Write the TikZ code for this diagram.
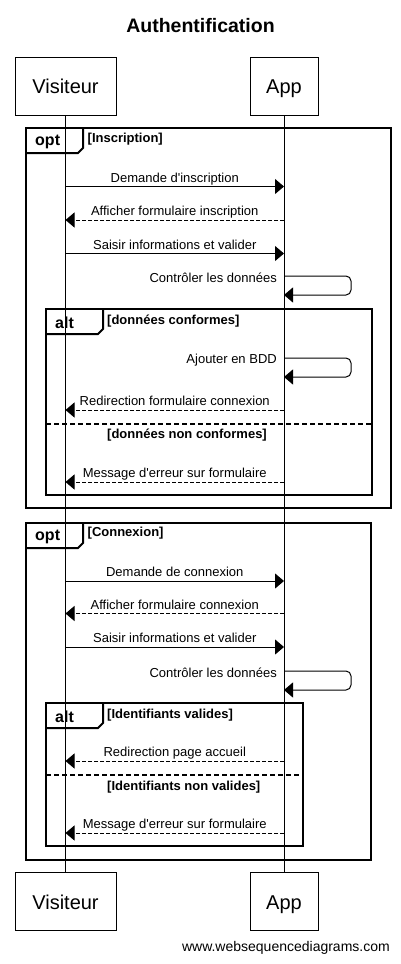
\documentclass[tikz,border=0pt]{standalone}
\usepackage{fontspec}
\setmainfont{Liberation Sans}
\newfontfamily\wsd{Liberation Sans}
\usetikzlibrary{arrows.meta,calc}
\begin{document}
\begin{tikzpicture}[x=1pt,y=-1pt,
  actorbox/.style={draw, line width=1pt, minimum height=58pt, inner sep=0pt, outer sep=0pt, text height=15.5pt, text depth=0pt, font=\wsd\fontsize{20}{24}\selectfont},
  life/.style={line width=1pt},
  msgline/.style={line width=1pt, -{Triangle[length=9pt,width=15pt]}},
  retline/.style={msgline, dash pattern=on 4pt off 2pt},
  mlabel/.style={font=\wsd\fontsize{13}{15}\selectfont, inner sep=0pt, anchor=base, yshift=4.5pt},
  slabel/.style={font=\wsd\fontsize{13}{15}\selectfont, inner sep=0pt, anchor=base east},
  frameline/.style={line width=2pt},
  sepline/.style={line width=2pt, dash pattern=on 5pt off 3pt},
  tabtext/.style={font=\wsd\bfseries\fontsize{16}{18}\selectfont, inner sep=0pt, anchor=west},
  guard/.style={font=\wsd\bfseries\fontsize{13}{15}\selectfont, inner sep=0pt, anchor=west},
]
\useasboundingbox (0,0) rectangle (401,964);
\def\xV{65.5}
\def\xA{284}

% title
\node[font=\wsd\bfseries\fontsize{19.5}{22}\selectfont] (title) at (200.5,26) {Authentification};

% actors
\node[actorbox, minimum width=101pt] (vtop) at (\xV,86) {Visiteur};
\node[actorbox, minimum width=68pt] (atop) at (\xA,86) {App};
\node[actorbox, minimum width=101pt] (vbot) at (\xV,901.5) {Visiteur};
\node[actorbox, minimum width=68pt] (abot) at (\xA,901.5) {App};

% ---------- opt Inscription ----------
\draw[frameline] (26,128) rectangle (391,508);
\draw[frameline] (26,153) -- (78,153) -- (83,148) -- (83,128);
\node[tabtext] (opt1lbl) at (35,141.5) {opt};
\node[guard] (opt1g) at (87.5,139) {[Inscription]};

% alt données
\draw[frameline] (46,309) rectangle (372,495);
\draw[frameline] (46,334) -- (98,334) -- (103,329) -- (103,309);
\node[tabtext] (alt1lbl) at (55,322.5) {alt};
\node[guard] (alt1g) at (107,321) {[données conformes]};
\draw[sepline] (46,424) -- (372,424);
\node[guard] (alt1g2) at (107,435) {[données non conformes]};

% ---------- opt Connexion ----------
\draw[frameline] (26,523) rectangle (371,860);
\draw[frameline] (26,548) -- (78,548) -- (83,543) -- (83,523);
\node[tabtext] (opt2lbl) at (35,536.5) {opt};
\node[guard] (opt2g) at (87.5,533) {[Connexion]};

% alt identifiants
\draw[frameline] (46,703) rectangle (303,846);
\draw[frameline] (46,728) -- (98,728) -- (103,723) -- (103,703);
\node[tabtext] (alt2lbl) at (55,716.5) {alt};
\node[guard] (alt2g) at (107,715) {[Identifiants valides]};
\draw[sepline] (46,775) -- (303,775);
\node[guard] (alt2g2) at (107,787) {[Identifiants non valides]};

% lifelines
\draw[life] (vtop.south) -- (vbot.north);
\draw[life] (atop.south) -- (abot.north);

% ---------- messages ----------
\coordinate (m1v) at (\xV,186.5); \coordinate (m1a) at (\xA,186.5);
\draw[msgline] (m1v) -- (m1a) node[mlabel, midway] (m1l) {Demande d'inscription};
\coordinate (m2v) at (\xV,220); \coordinate (m2a) at (\xA,220);
\draw[retline] (m2a) -- (m2v) node[mlabel, midway] (m2l) {Afficher formulaire inscription};
\coordinate (m3v) at (\xV,253.5); \coordinate (m3a) at (\xA,253.5);
\draw[msgline] (m3v) -- (m3a) node[mlabel, midway] (m3l) {Saisir informations et valider};
\coordinate (s1a) at (\xA,276); \coordinate (s1b) at (\xA,295);
\draw[msgline, rounded corners=5pt] (s1a) -- (351,276) -- (351,295) -- (s1b);
\node[slabel] (s1l) at (277,282) {Contrôler les données};

\coordinate (s2a) at (\xA,358); \coordinate (s2b) at (\xA,377);
\draw[msgline, rounded corners=5pt] (s2a) -- (351,358) -- (351,377) -- (s2b);
\node[slabel] (s2l) at (277,363.5) {Ajouter en BDD};
\coordinate (m4v) at (\xV,410); \coordinate (m4a) at (\xA,410);
\draw[retline] (m4a) -- (m4v) node[mlabel, midway] (m4l) {Redirection formulaire connexion};
\coordinate (m5v) at (\xV,482); \coordinate (m5a) at (\xA,482);
\draw[retline] (m5a) -- (m5v) node[mlabel, midway] (m5l) {Message d'erreur sur formulaire};

\coordinate (m6v) at (\xV,581); \coordinate (m6a) at (\xA,581);
\draw[msgline] (m6v) -- (m6a) node[mlabel, midway] (m6l) {Demande de connexion};
\coordinate (m7v) at (\xV,613.5); \coordinate (m7a) at (\xA,613.5);
\draw[retline] (m7a) -- (m7v) node[mlabel, midway] (m7l) {Afficher formulaire connexion};
\coordinate (m8v) at (\xV,647); \coordinate (m8a) at (\xA,647);
\draw[msgline] (m8v) -- (m8a) node[mlabel, midway] (m8l) {Saisir informations et valider};
\coordinate (s3a) at (\xA,671); \coordinate (s3b) at (\xA,690);
\draw[msgline, rounded corners=5pt] (s3a) -- (351,671) -- (351,690) -- (s3b);
\node[slabel] (s3l) at (277,677) {Contrôler les données};

\coordinate (m9v) at (\xV,761); \coordinate (m9a) at (\xA,761);
\draw[retline] (m9a) -- (m9v) node[mlabel, midway] (m9l) {Redirection page accueil};
\coordinate (m10v) at (\xV,833); \coordinate (m10a) at (\xA,833);
\draw[retline] (m10a) -- (m10v) node[mlabel, midway] (m10l) {Message d'erreur sur formulaire};

% watermark
\node[font=\wsd\fontsize{14}{16}\selectfont, inner sep=0pt, anchor=east] (wm) at (390,948) {www.websequencediagrams.com};
\end{tikzpicture}
\end{document}
